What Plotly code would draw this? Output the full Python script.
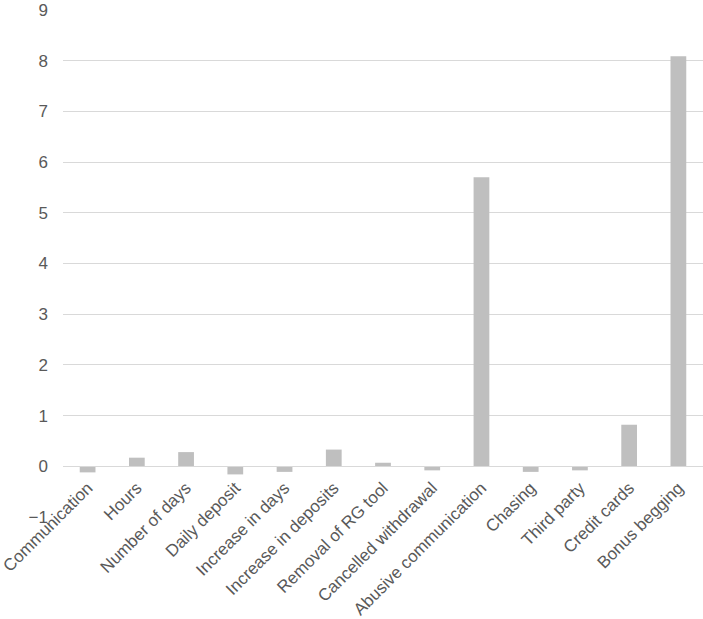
import plotly.graph_objects as go

categories = ["Communication", "Hours", "Number of days", "Daily deposit", "Increase in days",
              "Increase in deposits", "Removal of RG tool", "Cancelled withdrawal",
              "Abusive communication", "Chasing", "Third party", "Credit cards", "Bonus begging"]
values = [-0.12, 0.17, 0.28, -0.16, -0.11, 0.33, 0.07, -0.08, 5.70, -0.11, -0.08, 0.82, 8.09]
y_ticks = [-1, 0, 1, 2, 3, 4, 5, 6, 7, 8, 9]

font_family = "Liberation Sans, Arial, sans-serif"

fig = go.Figure(go.Bar(x=categories, y=values, marker=dict(color="#bfbfbf", line=dict(width=0)),
                       hoverinfo="skip"))

fig.update_layout(
    width=703, height=619,
    margin=dict(l=63, r=0, t=10, b=102),
    plot_bgcolor="white", paper_bgcolor="white",
    bargap=0.68,
    showlegend=False,
    font=dict(family=font_family, size=17, color="#595959"),
)
fig.update_yaxes(
    range=[-1, 9], tickvals=y_ticks, showgrid=True, gridcolor="#d9d9d9", gridwidth=1,
    zeroline=False, showline=False, ticks="", ticklabelstandoff=14, automargin=False,
    ticklabeloverflow="allow",
    tickfont=dict(size=17, color="#595959"),
)
fig.update_xaxes(
    anchor="free", position=0.1, showline=True, linecolor="#d9d9d9", linewidth=1,
    tickangle=-45, ticks="", ticklabelstandoff=4, automargin=False,
    ticklabeloverflow="allow",
    tickfont=dict(size=17, color="#595959"),
)

fig.write_html(
    "out.html",
    config={"displayModeBar": False},
    post_script="document.body.style.margin='0';document.body.style.overflow='hidden';",
)
